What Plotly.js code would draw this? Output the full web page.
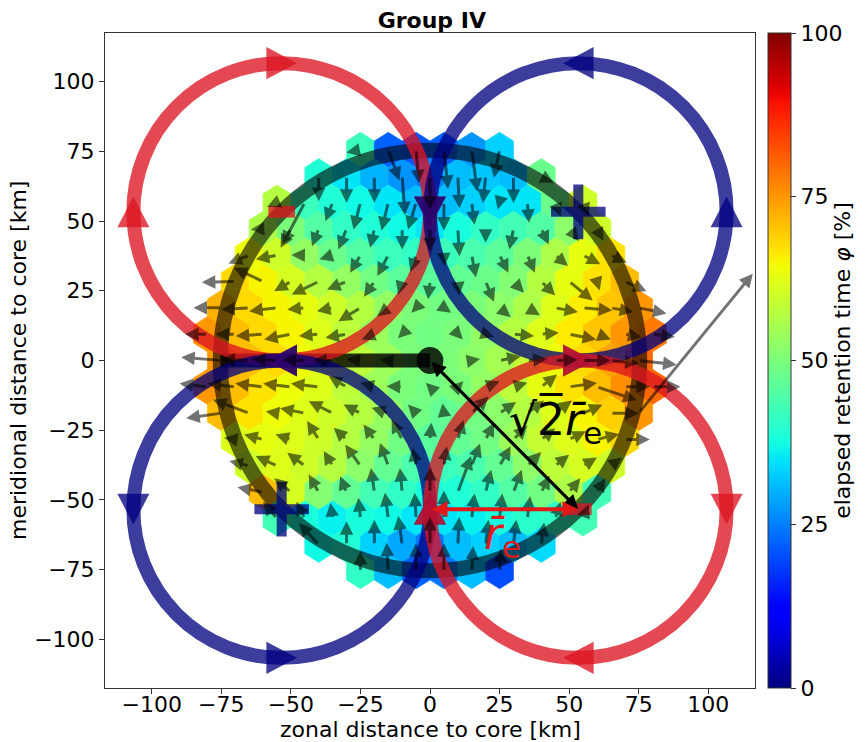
<!DOCTYPE html>
<html><head><meta charset="utf-8">
<script src="https://cdn.plot.ly/plotly-3.0.1.min.js"></script>
<style>html,body{margin:0;padding:0;background:#fff}#chart{width:868px;height:742px}</style>
</head><body><div id="chart"></div>
<script>
// ---------------- data ----------------
const rowIndex  = [8,7,6,5,4,3,2,1,0,-1,-2,-3,-4,-5,-6,-7,-8];
const rowStartX = [-25,-40,-55,-60,-65,-70,-75,-80,-75,-80,-75,-70,-65,-60,-55,-40,-25];
const hexDX = 10;      // km, bin spacing in x
const hexDY = 9.44;    // km, row spacing in y

const phiRows = [
 [42,22,21,22,27,33],
 [39,35,30,27,25,31,32,31,48],
 [57,42,39,37,35,31,31,33,35,35,48,60],
 [56,50,45,41,39,37,35,38,41,43,45,52,60],
 [64,60,53,48,45,42,41,42,44,46,50,56,63,67],
 [68,65,61,57,53,49,46,46,47,48,51,57,63,67,71],
 [72,68,65,63,60,57,53,50,49,50,52,56,62,66,70,75],
 [75,71,68,65,62,58,54,50,49,50,53,57,62,66,70,75,78],
 [75,71,68,64,62,58,54,50,50,52,55,59,64,68,74,80],
 [75,71,67,64,62,58,54,50,49,50,53,58,63,67,71,76,80],
 [71,67,64,62,60,57,53,49,47,49,52,57,62,65,69,75],
 [62,63,62,60,57,53,49,46,47,49,54,59,62,65,68],
 [60,62,60,57,52,47,44,42,44,47,52,58,61,60],
 [71,61,51,47,43,41,38,39,41,45,49,56,43],
 [43,38,36,38,37,35,35,36,38,40,41,43],
 [37,39,33,29,24,31,33,31,34],
 [41,31,22,24,31,20]
];
const uRows = [
 [-5,4,1,1.5,2,-2],
 [0,0,0,1,0,0.6,-1,0,4.5],
 [-3.5,-8,-2.6,-2.5,-2.4,-2.9,0,1,-0.7,0.6,2,2],
 [-4.4,-3.7,-2.4,-2.9,-1.5,0,0,0.6,0,-1.5,2.7,3.5,2.4],
 [-7.4,-7.6,-4.8,-4.7,-3.7,-3.9,-2,0.2,1.5,3.2,2.7,4.6,6.2,5.7],
 [-12,-10.5,-6,-9.7,-7,-3.7,-1.4,-0.7,0.5,3,3.8,5,8.5,1,7.8],
 [-10,-10,-10,-6.3,-5.6,-7.9,-4,-1.7,2.6,1,4,4.5,8.2,10.5,8,10],
 [-8,-7.1,-9.8,-9.6,-7.1,-7.6,-4.5,-1.5,-0.5,1.8,3,7.4,6.3,9.7,5,6,8],
 [-14.4,-10,-9,-8,-7,-5,-3,-1,1,3,7.6,7,8,10,10,13.6],
 [-10,-10,-10,-10,-10,-6.4,-5,-5.6,-1.5,2,5,5,5.7,10,14.3,9,10],
 [-12.6,-13,-4,-8.9,-8.6,-6.1,-6,-2.9,-0.5,6,6,6,6,7,10,41],
 [-4,-6.8,-5.5,-4.2,-4.6,-3.9,-3.8,0.5,2,3,5,5,6,8,9],
 [-7.1,-7.6,-6.3,-3.2,-5.5,-3,-1.2,1,3,4,5,5,5,4],
 [-9.2,-6,-3.6,-2.3,-1.2,-0.8,0,4.8,2,3,3,4,3],
 [-5,-3,-0.8,-0.7,-1.2,-0.5,0,1,1,1,2,2],
 [-7.1,0,0,-1.4,0,0.5,1,1,1],
 [0,-0.6,0,0,0.5,0.5]
];
const vRows = [
 [-1,-11,-12,-14,-15,-10],
 [-9,-9.5,-9.5,-14,-12,-11.5,-9.6,-9.6,-2.4],
 [-1.5,-15,-6.7,-9.7,-10,-9.7,-10,-8,-2.5,-7.3,-5,-5],
 [-0.2,-6.8,-6.2,-7.4,-6.8,-7.4,-8,-9.8,-5,-7.4,-5.6,-4.4,-4.4],
 [-3,-1.5,0.1,-1.5,-6.3,-7.5,-6,-4,-8,-6.3,-6.3,-3.9,-3.3,-2.7],
 [-0.3,4.9,-3.5,-4.7,-2.9,-5.5,-4.7,-6.4,-5,-7.3,-4,-5,-6.8,-3.2,-3.5],
 [0,-0.6,-1.2,-0.6,-1.2,-4.8,-3,-1.8,-1.8,-1,-3.3,-2.7,-1.5,-0.9,-1.5,-2],
 [0,0,-0.7,-1.9,-0.7,-1.3,-1.9,-1.5,-1.5,-1.9,-1,-0.7,0.5,-1.9,-1.9,-1,-1],
 [1.2,0.5,0.5,0.3,0,0.5,0.3,0,0,0.5,1.5,0.5,0.3,0,-1,-1.5],
 [1.2,1.2,1.2,1.2,1.2,3.8,1.5,0.2,1.5,2,2,1.5,4.4,1.4,-4.8,0,0],
 [-1.8,4.8,0.6,1.8,4.3,3.1,1.9,3.1,3.5,6,4,4.5,4.5,3,0,50],
 [0.6,1.8,1.8,6.6,4.2,5.4,7.2,6,7,6,5,4,3,2,0],
 [1.7,3.5,4.7,5.3,7.6,8.2,6.5,7,8,7,5,4,3,3],
 [1.8,5,6.3,5.7,8.7,8.7,9,13,8,8,6,5,5],
 [6,6,5.6,7.4,9.2,9.2,10,9,9,8,6,5],
 [7.8,8.5,9,10.3,10,10,9,9,8],
 [7.2,10.2,10,10,9,8]
];
const rE = 53.3;                       // mean eddy radius, km
const xTickVals = [-100,-75,-50,-25,0,25,50,75,100];
const yTickVals = [-100,-75,-50,-25,0,25,50,75,100];
const cbTickVals = [0,25,50,75,100];

// ---------------- styling helpers ----------------
function seg(t, pts){
  if (t <= pts[0][0]) return pts[0][1];
  for (let i = 1; i < pts.length; i++) {
    if (t <= pts[i][0]) { const a = pts[i-1], b = pts[i]; return a[1] + (b[1]-a[1])*(t-a[0])/(b[0]-a[0]); }
  }
  return pts[pts.length-1][1];
}
const JR = [[0,0],[0.35,0],[0.66,1],[0.89,1],[1,0.5]];
const JG = [[0,0],[0.125,0],[0.375,1],[0.64,1],[0.91,0],[1,0]];
const JB = [[0,0.5],[0.11,1],[0.34,1],[0.65,0],[1,0]];
function jet(t){ return 'rgb(' + Math.round(255*seg(t,JR)) + ',' + Math.round(255*seg(t,JG)) + ',' + Math.round(255*seg(t,JB)) + ')'; }
const jetScale = [0,0.11,0.125,0.34,0.35,0.375,0.5,0.64,0.65,0.66,0.89,0.91,1].map(s => [s, jet(s)]);

const RED = 'rgba(220,20,35,0.78)';
const BLUE = 'rgba(0,0,128,0.76)';
const ARROW = 'rgba(0,0,0,0.55)';
const FONT = 'DejaVu Sans, Liberation Sans, sans-serif';
const FS = 22;

const shapes = [];
const annotations = [];
const hx = [], hy = [], hv = [];

// hexbin cells + quiver arrows
const h1 = 2*hexDY/3, h2 = hexDY/3, hw = hexDX/2;
rowIndex.forEach((k, i) => {
  const y = k*hexDY;
  phiRows[i].forEach((val, j) => {
    const x = rowStartX[i] + j*hexDX;
    hx.push(x); hy.push(y); hv.push(val);
    const c = jet(val/100);
    shapes.push({type:'path', xref:'x', yref:'y', layer:'below',
      path:`M${x-hw},${y-h2}L${x-hw},${y+h2}L${x},${y+h1}L${x+hw},${y+h2}L${x+hw},${y-h2}L${x},${y-h1}Z`,
      fillcolor:c, line:{color:c, width:0.6}});
    const u = uRows[i][j], v = vRows[i][j];
    if (Math.abs(u) + Math.abs(v) > 0.3) {
      annotations.push({x:x+u, y:y+v, ax:x, ay:y, xref:'x', yref:'y', axref:'x', ayref:'y',
        text:'', showarrow:true, arrowhead:2, arrowsize:0.9, arrowwidth:3, arrowcolor:ARROW, standoff:0, startstandoff:0});
    }
  });
});

// big dark ring of radius sqrt(2) rE
const R2 = Math.SQRT2*rE;
shapes.push({type:'circle', xref:'x', yref:'y', x0:-R2, x1:R2, y0:-R2, y1:R2, line:{color:'rgba(0,0,0,0.6)', width:15}});
shapes.push({type:'line', xref:'x', yref:'y', x0:-R2, x1:0, y0:0, y1:0, line:{color:'rgba(0,0,0,0.82)', width:14}});
shapes.push({type:'circle', xref:'x', yref:'y', x0:-4.8, x1:4.8, y0:-4.8, y1:4.8, fillcolor:'rgba(0,0,0,0.82)', line:{width:0}});

// four eddies
const eddies = [
  {cx:-rE, cy: rE, col:RED,  sense:-1},
  {cx: rE, cy: rE, col:BLUE, sense: 1},
  {cx:-rE, cy:-rE, col:BLUE, sense: 1},
  {cx: rE, cy:-rE, col:RED,  sense:-1}
];
eddies.forEach(e => {
  shapes.push({type:'circle', xref:'x', yref:'y', x0:e.cx-rE, x1:e.cx+rE, y0:e.cy-rE, y1:e.cy+rE, line:{color:e.col, width:14}});
});
const TL = 11, TW = 11.5;
eddies.forEach(e => {
  [0, 90, 180, 270].forEach(deg => {
    const a = deg*Math.PI/180;
    const px = e.cx + rE*Math.cos(a), py = e.cy + rE*Math.sin(a);
    const dx = -Math.sin(a)*e.sense, dy = Math.cos(a)*e.sense;
    const nx = -dy, ny = dx;
    const tx = px + dx*TL/2, ty = py + dy*TL/2;
    const bx = px - dx*TL/2, by = py - dy*TL/2;
    shapes.push({type:'path', xref:'x', yref:'y',
      path:`M${tx},${ty}L${bx+nx*TW/2},${by+ny*TW/2}L${bx-nx*TW/2},${by-ny*TW/2}Z`,
      fillcolor:e.col, line:{width:0}});
  });
  const x = e.cx, y = e.cy;
  if (e.col === RED) {
    const a = 4.8, b = 2.1;
    shapes.push({type:'path', xref:'x', yref:'y', path:`M${x-a},${y-b}L${x+a},${y-b}L${x+a},${y+b}L${x-a},${y+b}Z`, fillcolor:e.col, line:{width:0}});
  } else {
    const a = 9.8, b = 1.8;
    shapes.push({type:'path', xref:'x', yref:'y',
      path:`M${x-a},${y-b}L${x-b},${y-b}L${x-b},${y-a}L${x+b},${y-a}L${x+b},${y-b}L${x+a},${y-b}L${x+a},${y+b}L${x+b},${y+b}L${x+b},${y+a}L${x-b},${y+a}L${x-b},${y+b}L${x-a},${y+b}Z`,
      fillcolor:e.col, line:{width:0}});
  }
});

// distance arrows and labels
annotations.push({x:rE, y:-rE, ax:0, ay:0, xref:'x', yref:'y', axref:'x', ayref:'y', text:'', showarrow:true,
  arrowside:'end+start', arrowhead:2, startarrowhead:2, arrowsize:0.9, startarrowsize:0.9, arrowwidth:3.2, arrowcolor:'black', standoff:0, startstandoff:0});
annotations.push({x:rE, y:-rE, ax:0, ay:-rE, xref:'x', yref:'y', axref:'x', ayref:'y', text:'', showarrow:true,
  arrowside:'end+start', arrowhead:2, startarrowhead:2, arrowsize:0.8, startarrowsize:0.8, arrowwidth:4, arrowcolor:'rgb(225,25,25)', standoff:0, startstandoff:0});
annotations.push({x:45, y:-22, xref:'x', yref:'y', showarrow:false, text:'√2\u0305<i>r\u0304</i><sub>e</sub>',
  font:{family:FONT, size:44, color:'black'}});
annotations.push({x:26, y:-63, xref:'x', yref:'y', showarrow:false, text:'<i>r\u0304</i><sub>e</sub>',
  font:{family:FONT, size:44, color:'rgb(225,25,25)'}});
// axis titles
annotations.push({xref:'paper', yref:'paper', x:0.5, y:-0.0626, xanchor:'center', yanchor:'middle', showarrow:false,
  text:'zonal distance to core [km]', font:{family:FONT, size:FS, color:'black'}});
annotations.push({xref:'paper', yref:'paper', x:-0.133, y:0.5, xanchor:'center', yanchor:'middle', showarrow:false, textangle:-90,
  text:'meridional distance to core [km]', font:{family:FONT, size:FS, color:'black'}});

const traces = [{
  type:'scatter', mode:'markers', x:hx, y:hy, hoverinfo:'skip', showlegend:false,
  marker:{size:2, opacity:0, color:hv, cmin:0, cmax:100, colorscale:jetScale, showscale:true,
    colorbar:{x:1.0195, xanchor:'left', xpad:0, y:0.5, yanchor:'middle', ypad:0, len:1, lenmode:'fraction',
      thickness:23, thicknessmode:'pixels', outlinewidth:1, outlinecolor:'#333',
      tickvals:cbTickVals, ticks:'outside', ticklen:5, tickcolor:'#333', tickfont:{family:FONT, size:FS, color:'black'},
      title:{text:'elapsed retention time <i>φ</i> [%]', side:'right', font:{family:FONT, size:FS, color:'black'}}}}
}];

const axisBase = {showgrid:false, zeroline:false, showline:true, mirror:true, linecolor:'#333', linewidth:1,
  ticks:'outside', ticklen:5, tickcolor:'#333', tickfont:{family:FONT, size:FS, color:'black'}};

const layout = {
  width:868, height:742, paper_bgcolor:'white', plot_bgcolor:'white',
  margin:{l:105, r:109, t:33, b:54},
  font:{family:FONT, color:'black'},
  title:{text:'<b>Group IV</b>', x:0.4975, xanchor:'center', y:0.973, yanchor:'middle', yref:'container', font:{family:FONT, size:FS, color:'black'}},
  xaxis:Object.assign({}, axisBase, {range:[-116.8,116.8], tickvals:xTickVals, ticklabelstandoff:-8}),
  yaxis:Object.assign({}, axisBase, {range:[-117.4,117.4], tickvals:yTickVals}),
  shapes:shapes, annotations:annotations
};

Plotly.newPlot('chart', traces, layout, {displayModeBar:false, staticPlot:true});
</script></body></html>
